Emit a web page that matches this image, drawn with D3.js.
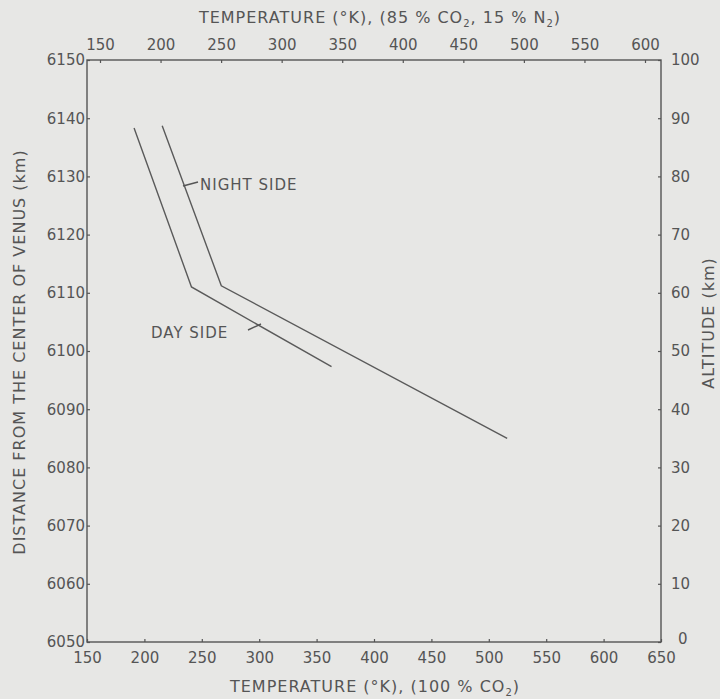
<!DOCTYPE html>
<html>
<head>
<meta charset="utf-8">
<script src="https://cdn.jsdelivr.net/npm/d3@7"></script>
<style>
  html, body { margin: 0; padding: 0; background: #e7e7e5; }
  svg { display: block; }
  text { font-family: "DejaVu Sans", sans-serif; fill: #555; }
</style>
</head>
<body>
<svg id="canvas" width="720" height="699"></svg>
<script>
// temperatures (K, bottom scale) and altitudes (km)
let dayTemp = [191, 241, 363];
let dayAlt = [88.3, 61.0, 47.3];
let nightTemp = [215.5, 267, 516];
let nightAlt = [88.7, 61.2, 35.0];

let bottomTicks = [150, 200, 250, 300, 350, 400, 450, 500, 550, 600, 650];
let topTicks = [150, 200, 250, 300, 350, 400, 450, 500, 550, 600];
let distTicks = [6050, 6060, 6070, 6080, 6090, 6100, 6110, 6120, 6130, 6140, 6150];
let altTicks = [0, 10, 20, 30, 40, 50, 60, 70, 80, 90, 100];

let plotLeft = 87, plotRight = 661, plotTop = 60, plotBottom = 642;
let ink = "#555";

let svg = d3.select("#canvas");

let x = d3.scaleLinear().domain([150, 650]).range([plotLeft, plotRight]);
// the upper scale is lettered on its own spacing
let xTop = d3.scaleLinear().domain([150, 600]).range([100, 645]);
let yDist = d3.scaleLinear().domain([6050, 6150]).range([plotBottom, plotTop]);
let yAlt = d3.scaleLinear().domain([0, 100]).range([plotBottom, plotTop]);

let styleAxis = (g) => {
  g.select(".domain").remove();
  g.selectAll("line").attr("stroke", ink).attr("stroke-width", 1.2);
  g.selectAll("text").attr("font-size", 15).attr("fill", ink)
    .style("font-family", "DejaVu Sans, sans-serif");
};

svg.append("g")
  .attr("transform", `translate(0,${plotBottom})`)
  .call(d3.axisBottom(x).tickValues(bottomTicks).tickSize(-3).tickPadding(10))
  .call(styleAxis);

svg.append("g")
  .attr("transform", `translate(0,${plotTop})`)
  .call(d3.axisTop(xTop).tickValues(topTicks).tickSize(-3).tickPadding(10))
  .call(styleAxis);

svg.append("g")
  .attr("transform", `translate(${plotLeft},0)`)
  .call(d3.axisLeft(yDist).tickValues(distTicks).tickSize(-3).tickPadding(2).tickFormat(d3.format("d")))
  .call(styleAxis);

let rightAxis = svg.append("g")
  .attr("transform", `translate(${plotRight},0)`)
  .call(d3.axisRight(yAlt).tickValues(altTicks).tickSize(-3).tickPadding(10))
  .call(styleAxis);

// the "0" sits a bit right and above, clear of the 650
rightAxis.selectAll(".tick")
  .filter((d) => d === 0)
  .select("text")
  .attr("x", 17)
  .attr("dy", "0.1em");

// frame
svg.append("rect")
  .attr("x", plotLeft).attr("y", plotTop)
  .attr("width", plotRight - plotLeft).attr("height", plotBottom - plotTop)
  .attr("fill", "none").attr("stroke", ink).attr("stroke-width", 1.4);

let line = d3.line()
  .x((d) => x(d[0]))
  .y((d) => yAlt(d[1]));

svg.append("path")
  .attr("d", line(d3.zip(dayTemp, dayAlt)))
  .attr("fill", "none").attr("stroke", "#5a5a5a").attr("stroke-width", 1.4);

svg.append("path")
  .attr("d", line(d3.zip(nightTemp, nightAlt)))
  .attr("fill", "none").attr("stroke", "#5a5a5a").attr("stroke-width", 1.4);

// labels with leaders
svg.append("line")
  .attr("x1", 183).attr("y1", 186).attr("x2", 198).attr("y2", 182)
  .attr("stroke", ink).attr("stroke-width", 1.4);
svg.append("text").attr("x", 200).attr("y", 190).attr("font-size", 15)
  .attr("letter-spacing", 1).text("NIGHT SIDE");

svg.append("line")
  .attr("x1", 248).attr("y1", 330).attr("x2", 261).attr("y2", 324)
  .attr("stroke", ink).attr("stroke-width", 1.4);
svg.append("text").attr("x", 151).attr("y", 338).attr("font-size", 15)
  .attr("letter-spacing", 1).text("DAY SIDE");

// axis titles
let topTitle = svg.append("text").attr("x", 380).attr("y", 23)
  .attr("text-anchor", "middle").attr("font-size", 16).attr("letter-spacing", 1);
topTitle.append("tspan").text("TEMPERATURE (°K), (85 % CO");
topTitle.append("tspan").attr("font-size", 10).attr("dy", 4).text("2");
topTitle.append("tspan").attr("dy", -4).text(", 15 % N");
topTitle.append("tspan").attr("font-size", 10).attr("dy", 4).text("2");
topTitle.append("tspan").attr("dy", -4).text(")");

let bottomTitle = svg.append("text").attr("x", 375).attr("y", 692)
  .attr("text-anchor", "middle").attr("font-size", 16).attr("letter-spacing", 1);
bottomTitle.append("tspan").text("TEMPERATURE (°K), (100 % CO");
bottomTitle.append("tspan").attr("font-size", 10).attr("dy", 4).text("2");
bottomTitle.append("tspan").attr("dy", -4).text(")");

svg.append("text")
  .attr("transform", "translate(25,352) rotate(-90)")
  .attr("text-anchor", "middle").attr("font-size", 16).attr("letter-spacing", 1)
  .text("DISTANCE FROM THE CENTER OF VENUS (km)");

svg.append("text")
  .attr("transform", "translate(714,323) rotate(-90)")
  .attr("text-anchor", "middle").attr("font-size", 16).attr("letter-spacing", 1)
  .text("ALTITUDE (km)");
</script>
</body>
</html>
